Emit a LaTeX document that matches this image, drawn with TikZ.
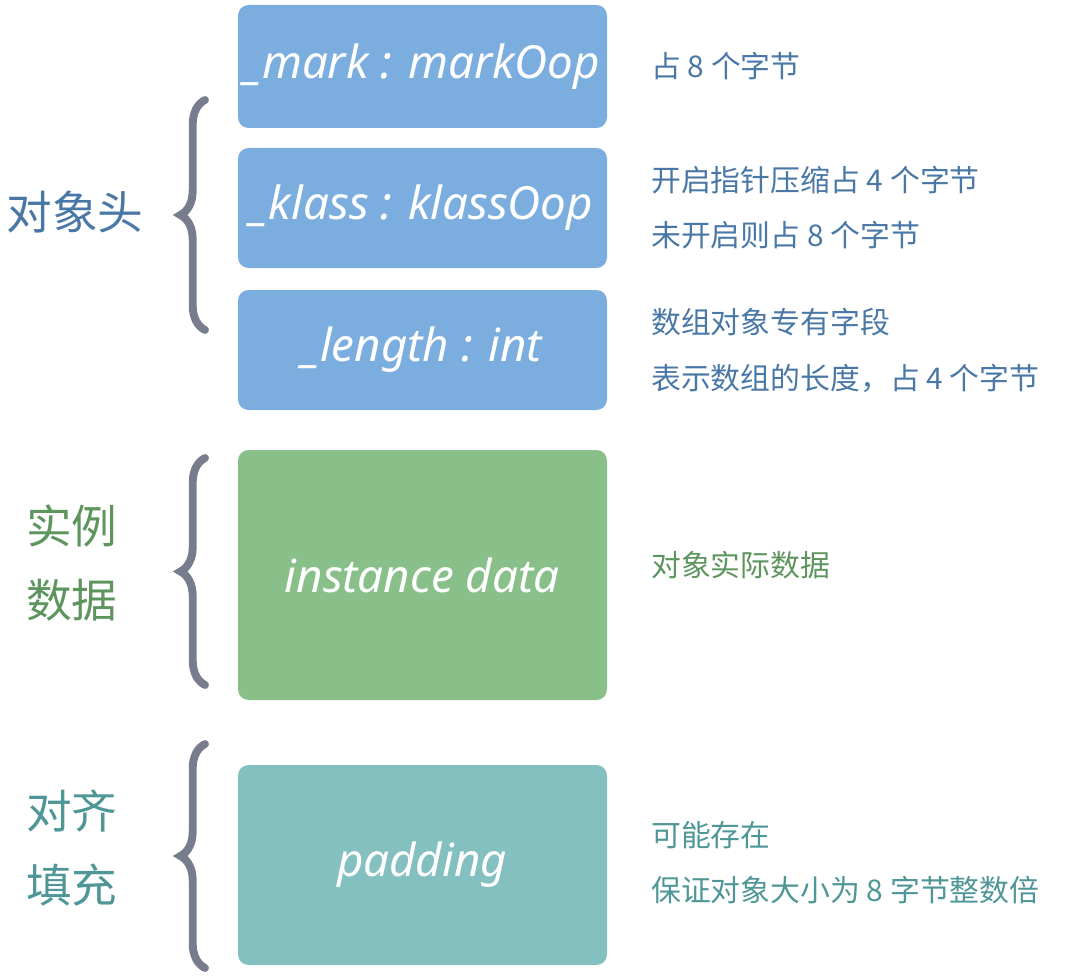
\documentclass[tikz,border=0pt]{standalone}
\usepackage{fontspec}
\setmainfont{Noto Sans}
\newfontfamily\cjk{Noto Sans CJK SC}
\usetikzlibrary{decorations.pathreplacing}
\definecolor{headblue}{HTML}{7BAEDF}
\definecolor{datagreen}{HTML}{89C08A}
\definecolor{padteal}{HTML}{84C0C0}
\definecolor{headtxt}{HTML}{4A78A6}
\definecolor{datatxt}{HTML}{5E955E}
\definecolor{padtxt}{HTML}{4F9696}
\definecolor{bracegray}{HTML}{777D8C}
\tikzset{
  field/.style={fill=#1, rounded corners=6pt, text=white, font=\itshape\fontsize{26}{30}\selectfont},
  brc/.style={draw=bracegray, line width=4.5pt, line cap=round,
    decorate, decoration={brace, amplitude=14pt}},
  note/.style={anchor=west, font=\cjk\fontsize{17}{20}\selectfont},
  side/.style={font=\cjk\fontsize{26}{32}\selectfont, align=center}
}
\begin{document}
\begin{tikzpicture}[x=0.02cm,y=-0.02cm]
				\useasboundingbox (0,0) rectangle (1072,980);
				% boxes
				\foreach \n/\c/\a/\b/\t in
				{mark/headblue/5/128/{\_mark : markOop},
				 klass/headblue/148/268/{\_klass : klassOop},
				 length/headblue/290/410/{\_length : int},
				 inst/datagreen/450/700/{instance data},
				 pad/padteal/765/965/{padding}}{
					\fill[field=\c] (238,\a) rectangle (607,\b);
					\node[text=white, font=\itshape\fontsize{26}{30}\selectfont] (\n) at (422,{(\a+\b)/2}) {\t};
				}
				
				% braces
				\draw[brc] (205,330) -- (205,100);
				\draw[brc] (205,685) -- (205,458);
				\draw[brc] (205,968) -- (205,744);
				
				% side labels
				\node[side, text=headtxt] (hd) at (75,212) {对象头};
				\node[side, text=datatxt] (dt) at (72,563) {实例\\[10pt]数据};
				\node[side, text=padtxt] (pd) at (72,848) {对齐\\[10pt]填充};
				
				% notes
				\foreach \n/\y/\c/\t in
				{n1/66/headtxt/{占 8 个字节},
				 n2/180/headtxt/{开启指针压缩占 4 个字节},
				 n3/235/headtxt/{未开启则占 8 个字节},
				 n4/322/headtxt/{数组对象专有字段},
				 n5/378/headtxt/{表示数组的长度，占 4 个字节},
				 n6/565/datatxt/{对象实际数据},
				 n7/835/padtxt/{可能存在},
				 n8/890/padtxt/{保证对象大小为 8 字节整数倍}}{
					\node[note, text=\c] (\n) at (645,\y) {\t};
				}
			\end{tikzpicture}
\end{document}
